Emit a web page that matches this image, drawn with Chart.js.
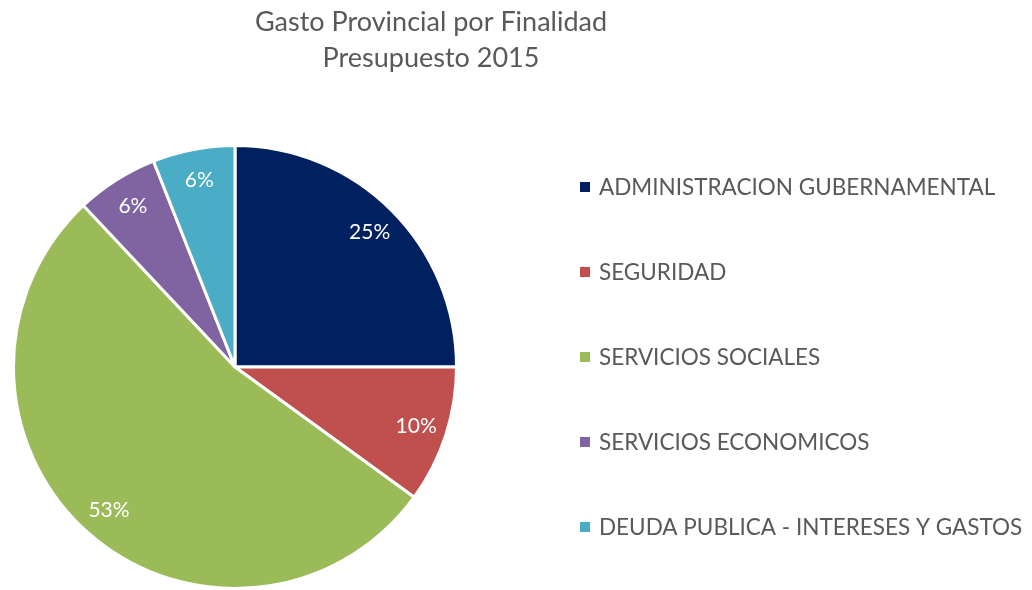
<!DOCTYPE html>
<html>
<head>
<meta charset="utf-8">
<script src="https://cdn.jsdelivr.net/npm/chart.js@4.4.1/dist/chart.umd.min.js"></script>
<style>
  html, body { margin: 0; background: #fff; }
  #wrap { width: 1032px; height: 590px; }
</style>
</head>
<body>
<div id="wrap"><canvas id="pieChart"></canvas></div>
<script>
// data
const titleLines = ["Gasto Provincial por Finalidad", "Presupuesto 2015"];
const categories = [
  "ADMINISTRACION GUBERNAMENTAL",
  "SEGURIDAD",
  "SERVICIOS SOCIALES",
  "SERVICIOS ECONOMICOS",
  "DEUDA PUBLICA - INTERESES Y GASTOS"
];
const shares = [25, 10, 53, 6, 6];
const sliceColors = ["#002060", "#C0504D", "#9BBB59", "#8064A2", "#4BACC6"];

const FONT = "Lato, 'Open Sans', sans-serif";
const GREY = "#595959";

// percent labels inside the slices
const sliceLabels = {
  id: "sliceLabels",
  afterDatasetsDraw(chart) {
    const ctx = chart.ctx;
    const meta = chart.getDatasetMeta(0);
    ctx.save();
    ctx.fillStyle = "#fff";
    ctx.font = "21px " + FONT;
    ctx.textAlign = "center";
    ctx.textBaseline = "middle";
    meta.data.forEach((arc, i) => {
      const p = arc.getProps(["x", "y", "startAngle", "endAngle", "outerRadius"], true);
      const mid = (p.startAngle + p.endAngle) / 2;
      const r = p.outerRadius * 0.86;
      ctx.fillText(shares[i] + "%", p.x + Math.cos(mid) * r, p.y + Math.sin(mid) * r);
    });
    ctx.restore();
  }
};

// legend on the right, Excel style (small squares, wide spacing)
const sideLegend = {
  id: "sideLegend",
  afterDraw(chart) {
    const ctx = chart.ctx;
    const x0 = 580, y0 = 187, step = 85, box = 10;
    ctx.save();
    ctx.font = "22.5px " + FONT;
    ctx.textBaseline = "middle";
    categories.forEach((name, i) => {
      const y = y0 + i * step;
      ctx.fillStyle = sliceColors[i];
      ctx.fillRect(x0, y - box / 2, box, box);
      ctx.fillStyle = GREY;
      ctx.fillText(name, x0 + box + 9, y + 1);
    });
    ctx.restore();
  }
};

// the title in the original is centred over the left part of the canvas
const titleShift = {
  id: "titleShift",
  afterLayout(chart) {
    chart.titleBlock.left = 0;
    chart.titleBlock.right = 862;
    chart.titleBlock.width = 862;
  }
};

new Chart(document.getElementById("pieChart"), {
  type: "pie",
  data: {
    labels: categories,
    datasets: [{
      data: shares,
      backgroundColor: sliceColors,
      borderColor: "#fff",
      borderWidth: 3
    }]
  },
  options: {
    responsive: true,
    maintainAspectRatio: false,
    animation: false,
    layout: { padding: { left: 11, right: 573, top: 0, bottom: 0 } },
    plugins: {
      legend: { display: false },
      tooltip: { enabled: false },
      title: {
        display: true,
        text: titleLines,
        color: GREY,
        font: { family: FONT, size: 27, weight: "normal", lineHeight: 1.333 },
        padding: { top: 4, bottom: 68 }
      }
    }
  },
  plugins: [sliceLabels, sideLegend, titleShift]
});
</script>
</body>
</html>
